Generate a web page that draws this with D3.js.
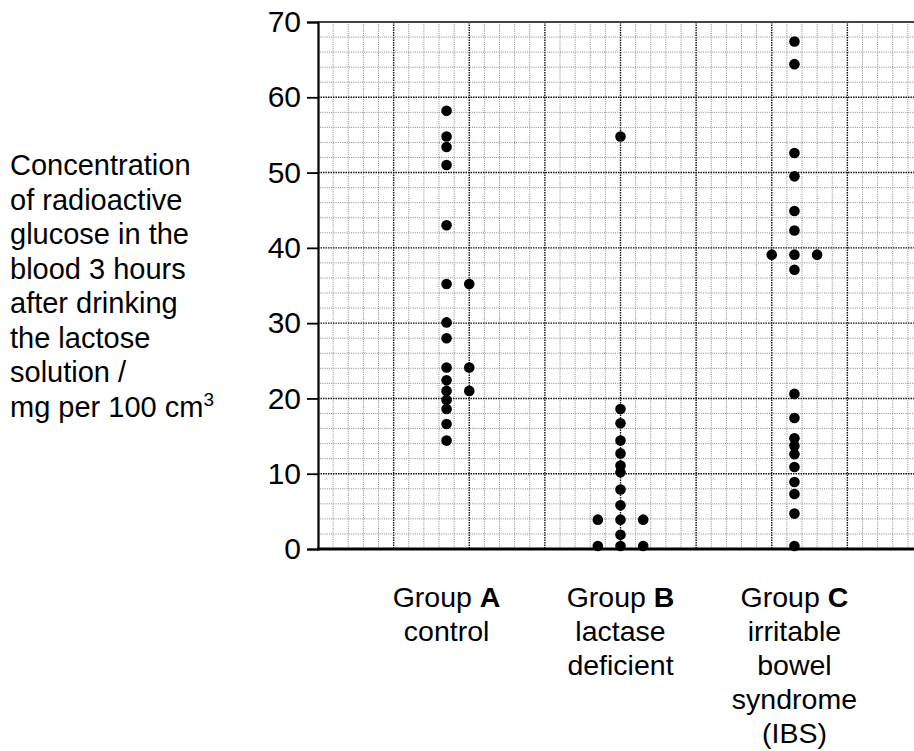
<!DOCTYPE html>
<html>
<head>
<meta charset="utf-8">
<script src="https://cdn.jsdelivr.net/npm/d3@7"></script>
<style>
  body { margin: 0; background: #fff; }
  svg { display: block; font-family: "Liberation Sans", Arial, sans-serif; }
</style>
</head>
<body>
<svg id="chart" width="914" height="751"></svg>
<script>
// Groups and their labels (one line per entry)
var groups = ["A", "B", "C"];
var groupLabels = [
  ["control"],
  ["lactase", "deficient"],
  ["irritable", "bowel", "syndrome", "(IBS)"]
];

// Glucose values, per group and dot column
var groupAMain = [58.2, 54.8, 53.4, 51.0, 43.0, 35.2, 30.1, 28.0, 24.1, 22.4, 21.0, 19.8, 18.6, 16.6, 14.4];
var groupARight = [35.2, 24.1, 21.0];
var groupBMain = [54.8, 18.6, 16.7, 14.4, 12.7, 11.1, 10.2, 7.9, 5.8, 3.9, 1.9, 0.4];
var groupBLeft = [3.9, 0.4];
var groupBRight = [3.9, 0.4];
var groupCMain = [67.4, 64.4, 52.6, 49.5, 44.9, 42.3, 39.1, 37.1, 20.6, 17.4, 14.7, 13.7, 12.6, 10.9, 8.9, 7.3, 4.7, 0.4];
var groupCLeft = [39.1];
var groupCRight = [39.1];

var yTicks = [0, 10, 20, 30, 40, 50, 60, 70];
var yLabelLines = ["Concentration", "of radioactive", "glucose in the", "blood 3 hours",
  "after drinking", "the lactose", "solution /", "mg per 100 cm"];

// flatten into one list of points (column: -1 left, 0 middle, 1 right)
var points = [];
function addPoints(group, column, values) {
  values.forEach(function (v) { points.push({ group: group, column: column, value: v }); });
}
addPoints("A", 0, groupAMain);
addPoints("A", 1, groupARight);
addPoints("B", 0, groupBMain);
addPoints("B", -1, groupBLeft);
addPoints("B", 1, groupBRight);
addPoints("C", 0, groupCMain);
addPoints("C", -1, groupCLeft);
addPoints("C", 1, groupCRight);

var svg = d3.select("#chart");

// grid is 40 small squares wide, x measured in squares
var plotLeft = 318, plotTop = 22, plotBottom = 549;
var xScale = d3.scaleLinear().domain([0, 40]).range([plotLeft, 923]);
var yScale = d3.scaleLinear().domain([0, 70]).range([plotBottom, plotTop]);
var groupScale = d3.scalePoint().domain(groups).range([8.5, 31.5]);
var columnScale = d3.scaleLinear().domain([-1, 1]).range([-1.5, 1.5]);

var grid = svg.append("g");

// vertical grid lines
d3.range(1, 41).forEach(function (i) {
  var major = i % 5 === 0;
  grid.append("line")
    .attr("x1", xScale(i)).attr("x2", xScale(i))
    .attr("y1", plotTop).attr("y2", plotBottom)
    .attr("stroke", major ? "#111" : "#8a8a8a")
    .attr("stroke-width", major ? 1.4 : 1)
    .attr("stroke-dasharray", major ? "1.5,1" : "1,1.2");
});

// horizontal grid lines every 2 units
d3.range(2, 70, 2).forEach(function (v) {
  var major = v % 10 === 0;
  grid.append("line")
    .attr("x1", plotLeft).attr("x2", 914)
    .attr("y1", yScale(v)).attr("y2", yScale(v))
    .attr("stroke", major ? "#111" : "#8a8a8a")
    .attr("stroke-width", major ? 1.4 : 1)
    .attr("stroke-dasharray", major ? "1.5,1" : "1,1.2");
});

// top border
svg.append("line")
  .attr("x1", plotLeft).attr("x2", 914)
  .attr("y1", plotTop).attr("y2", plotTop)
  .attr("stroke", "#444").attr("stroke-width", 2);

// y axis
var yAxis = d3.axisLeft(yScale).tickValues(yTicks).tickSize(11).tickPadding(6);
var ya = svg.append("g").attr("transform", "translate(" + plotLeft + ",0)").call(yAxis);
ya.select(".domain").attr("stroke", "#000").attr("stroke-width", 2.2);
ya.selectAll(".tick line").attr("stroke", "#000").attr("stroke-width", 1.8);
ya.selectAll(".tick text")
  .attr("font-family", "Liberation Sans, Arial, sans-serif")
  .attr("font-size", 30)
  .attr("fill", "#000");

// bottom axis line
svg.append("line")
  .attr("x1", plotLeft - 1).attr("x2", 914)
  .attr("y1", plotBottom).attr("y2", plotBottom)
  .attr("stroke", "#000").attr("stroke-width", 3);

// dots
svg.append("g").selectAll("circle")
  .data(points)
  .enter()
  .append("circle")
  .attr("cx", function (d) { return xScale(groupScale(d.group) + columnScale(d.column)); })
  .attr("cy", function (d) { return yScale(d.value); })
  .attr("r", 5.3)
  .attr("fill", "#000");

// group labels under the axis
var labels = svg.append("g").attr("font-size", 28.5).attr("text-anchor", "middle");
groups.forEach(function (g, i) {
  var t = labels.append("text")
    .attr("x", xScale(groupScale(g)))
    .attr("y", 607);
  t.append("tspan").text("Group ");
  t.append("tspan").attr("font-weight", "bold").text(g);
  groupLabels[i].forEach(function (line, j) {
    labels.append("text")
      .attr("x", xScale(groupScale(g)))
      .attr("y", 607 + 34 * (j + 1))
      .text(line);
  });
});

// y label, left side
var yl = svg.append("g").attr("font-size", 29);
yLabelLines.forEach(function (line, i) {
  var t = yl.append("text").attr("x", 10).attr("y", 175 + 34.5 * i).text(line);
  if (i === yLabelLines.length - 1) {
    t.append("tspan").attr("font-size", 19).attr("dy", -11).text("3");
  }
});
</script>
</body>
</html>
